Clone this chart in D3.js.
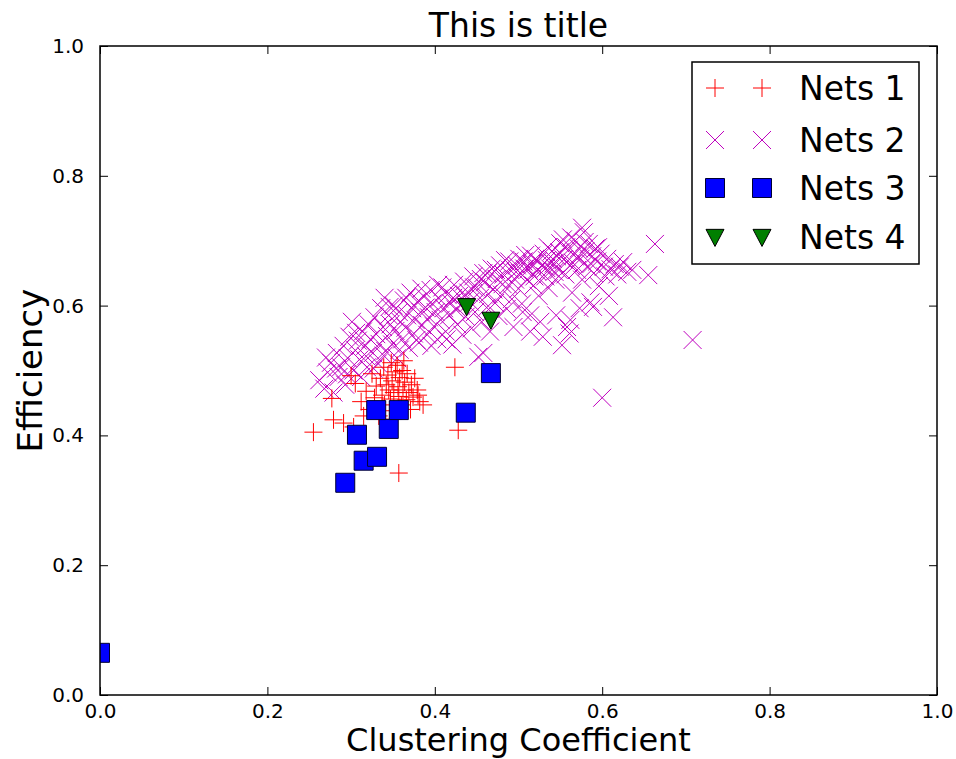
<!DOCTYPE html>
<html>
<head>
<meta charset="utf-8">
<script src="https://cdn.jsdelivr.net/npm/d3@7"></script>
<style>
  body { margin: 0; background: #fff; }
  text { font-family: "DejaVu Sans", sans-serif; fill: #000; }
</style>
</head>
<body>
<div id="chart"></div>
<script>
var seriesNames = ["Nets 1", "Nets 2", "Nets 3", "Nets 4"];
var xTicks = [0.0, 0.2, 0.4, 0.6, 0.8, 1.0];
var yTicks = [0.0, 0.2, 0.4, 0.6, 0.8, 1.0];

// [clustering coefficient, efficiency]
var nets1 = [
	[0.255,0.405],[0.277,0.457],[0.279,0.424],[0.291,0.419],[0.303,0.413],[0.305,0.480],
	[0.312,0.452],[0.318,0.468],[0.322,0.440],[0.325,0.495],[0.328,0.458],[0.330,0.476],
	[0.333,0.430],[0.335,0.488],[0.337,0.462],[0.339,0.505],[0.340,0.447],[0.342,0.478],
	[0.344,0.493],[0.345,0.470],[0.347,0.456],[0.348,0.512],[0.349,0.484],[0.351,0.466],
	[0.352,0.438],[0.353,0.498],[0.355,0.508],[0.356,0.475],[0.357,0.460],[0.358,0.489],
	[0.360,0.447],[0.361,0.500],[0.362,0.470],[0.364,0.482],[0.366,0.455],[0.367,0.495],
	[0.369,0.466],[0.371,0.440],[0.372,0.478],[0.374,0.459],[0.376,0.488],[0.379,0.470],
	[0.382,0.452],[0.386,0.447],[0.357,0.342],[0.424,0.505],[0.428,0.408],[0.300,0.492],
	[0.315,0.430],[0.350,0.425],[0.363,0.515],[0.380,0.462]
];

var nets2 = [
	[0.262,0.485],[0.268,0.472],[0.272,0.497],[0.276,0.512],[0.279,0.466],[0.283,0.527],
	[0.285,0.490],[0.288,0.505],[0.291,0.538],[0.293,0.478],[0.296,0.519],[0.298,0.552],
	[0.301,0.575],[0.303,0.500],[0.305,0.531],[0.308,0.546],[0.310,0.517],[0.312,0.490],
	[0.314,0.560],[0.317,0.538],[0.319,0.505],[0.321,0.571],[0.323,0.548],[0.326,0.527],
	[0.328,0.582],[0.330,0.556],[0.332,0.511],[0.334,0.541],[0.336,0.596],[0.338,0.567],
	[0.340,0.612],[0.341,0.530],[0.343,0.553],[0.345,0.585],[0.347,0.571],[0.349,0.540],
	[0.351,0.600],[0.353,0.561],[0.355,0.519],[0.357,0.590],[0.359,0.575],[0.361,0.548],
	[0.363,0.608],[0.365,0.566],[0.367,0.585],[0.369,0.535],[0.371,0.620],[0.373,0.596],
	[0.375,0.557],[0.377,0.578],[0.379,0.606],[0.381,0.543],[0.383,0.590],[0.385,0.570],
	[0.387,0.614],[0.389,0.597],[0.391,0.555],[0.393,0.582],[0.395,0.624],[0.397,0.603],
	[0.399,0.568],[0.401,0.590],[0.403,0.548],[0.405,0.611],[0.407,0.578],[0.409,0.628],
	[0.411,0.596],[0.413,0.560],[0.415,0.617],[0.417,0.585],[0.419,0.604],[0.421,0.540],
	[0.423,0.632],[0.425,0.594],[0.427,0.571],[0.429,0.615],[0.431,0.600],[0.433,0.555],
	[0.435,0.637],[0.437,0.583],[0.440,0.620],[0.442,0.606],[0.444,0.565],[0.446,0.645],
	[0.448,0.590],[0.450,0.628],[0.452,0.521],[0.454,0.612],[0.456,0.575],[0.458,0.650],
	[0.460,0.636],[0.462,0.597],[0.464,0.618],[0.466,0.560],[0.468,0.657],[0.470,0.625],
	[0.472,0.604],[0.474,0.641],[0.476,0.584],[0.478,0.662],[0.480,0.617],[0.482,0.648],
	[0.484,0.670],[0.486,0.595],[0.488,0.632],[0.490,0.655],[0.492,0.610],[0.494,0.567],
	[0.496,0.640],[0.498,0.662],[0.500,0.626],[0.502,0.650],[0.504,0.603],[0.506,0.668],
	[0.508,0.678],[0.510,0.640],[0.512,0.656],[0.514,0.585],[0.516,0.664],[0.518,0.631],
	[0.520,0.672],[0.522,0.653],[0.524,0.615],[0.526,0.575],[0.528,0.662],[0.530,0.680],
	[0.532,0.645],[0.534,0.670],[0.536,0.627],[0.538,0.657],[0.540,0.684],[0.542,0.665],
	[0.544,0.640],[0.546,0.676],[0.548,0.655],[0.550,0.696],[0.552,0.539],[0.554,0.671],
	[0.556,0.648],[0.558,0.567],[0.560,0.686],[0.562,0.662],[0.564,0.620],[0.566,0.678],
	[0.568,0.700],[0.570,0.655],[0.572,0.688],[0.574,0.672],[0.576,0.640],[0.578,0.713],
	[0.580,0.684],[0.582,0.660],[0.584,0.695],[0.586,0.605],[0.588,0.676],[0.590,0.650],
	[0.592,0.688],[0.594,0.668],[0.596,0.630],[0.598,0.680],[0.600,0.458],[0.602,0.660],
	[0.604,0.645],[0.606,0.672],[0.608,0.615],[0.610,0.656],[0.613,0.582],[0.615,0.664],
	[0.618,0.648],[0.621,0.660],[0.625,0.667],[0.630,0.652],[0.636,0.655],[0.655,0.647],
	[0.663,0.695],[0.708,0.547],[0.514,0.560],[0.529,0.552],[0.561,0.557],[0.562,0.578],
	[0.589,0.598],[0.573,0.596],[0.458,0.527],[0.545,0.585],[0.505,0.590],[0.576,0.720],
	[0.270,0.520],[0.282,0.503],[0.295,0.494],[0.306,0.558],[0.318,0.522],[0.327,0.503],
	[0.339,0.523],[0.346,0.598],[0.358,0.532],[0.366,0.612],[0.378,0.547],[0.384,0.626],
	[0.396,0.538],[0.404,0.632],[0.414,0.548],[0.422,0.612],[0.436,0.617],[0.447,0.628],
	[0.455,0.641],[0.463,0.650],[0.473,0.655],[0.481,0.633],[0.489,0.668],[0.497,0.652],
	[0.507,0.657],[0.515,0.677],[0.523,0.668],[0.533,0.658],[0.541,0.672],[0.549,0.682],
	[0.557,0.690],[0.565,0.666],[0.571,0.676],[0.579,0.698],[0.587,0.664],[0.595,0.690],
	[0.535,0.690],[0.553,0.702],[0.563,0.705],[0.543,0.652],[0.519,0.645],[0.501,0.672]
];

var nets3 = [
	[0.000,0.065],[0.293,0.327],[0.315,0.361],[0.331,0.367],[0.307,0.401],
	[0.345,0.410],[0.330,0.439],[0.357,0.439],[0.437,0.435],[0.467,0.496]
];

var nets4 = [[0.438,0.599],[0.467,0.578]];

var width = 956, height = 759;
var margin = {top: 46, right: 19, bottom: 64, left: 100},
	w = width - margin.left - margin.right,
	h = height - margin.top - margin.bottom;

var x = d3.scaleLinear().domain([0, 1]).range([0, w]);
var y = d3.scaleLinear().domain([0, 1]).range([h, 0]);

var svg = d3.select("#chart").append("svg")
	.attr("width", width)
	.attr("height", height);

svg.append("defs").append("clipPath").attr("id", "clip")
	.append("rect").attr("width", w).attr("height", h);

var g = svg.append("g")
	.attr("transform", "translate(" + margin.left + "," + margin.top + ")");

// marker shapes
function plusPath(r) { return "M" + (-r) + ",0H" + r + "M0," + (-r) + "V" + r; }
function crossPath(r) { return "M" + (-r) + "," + (-r) + "L" + r + "," + r + "M" + (-r) + "," + r + "L" + r + "," + (-r); }
function squarePath(r) { return "M" + (-r) + "," + (-r) + "H" + r + "V" + r + "H" + (-r) + "Z"; }
function triPath(r) { return "M" + (-r) + "," + (-r * 0.85) + "H" + r + "L0," + (r * 1.05) + "Z"; }

var styles = [
	{d: plusPath(9), fill: "none", stroke: "#ff0000", sw: 1},
	{d: crossPath(9), fill: "none", stroke: "#bf00bf", sw: 1},
	{d: squarePath(9.5), fill: "#0000ff", stroke: "#000033", sw: 1},
	{d: triPath(9), fill: "#007f00", stroke: "#000000", sw: 1}
];

function drawSeries(data, s) {
	plot.append("g").selectAll("path")
		.data(data)
		.enter().append("path")
		.attr("transform", function(d) { return "translate(" + x(d[0]) + "," + y(d[1]) + ")"; })
		.attr("d", s.d)
		.attr("fill", s.fill)
		.attr("stroke", s.stroke)
		.attr("stroke-width", s.sw);
}

var plot = g.append("g").attr("clip-path", "url(#clip)");
drawSeries(nets2, styles[1]);
drawSeries(nets1, styles[0]);
drawSeries(nets3, styles[2]);
drawSeries(nets4, styles[3]);

// axes, ticks inward on all four sides
var fmt = d3.format(".1f");
g.append("g").attr("transform", "translate(0," + h + ")")
	.call(d3.axisBottom(x).tickValues(xTicks).tickFormat(fmt).tickSizeInner(-8).tickSizeOuter(0).tickPadding(9));
g.append("g")
	.call(d3.axisLeft(y).tickValues(yTicks).tickFormat(fmt).tickSizeInner(-8).tickSizeOuter(0).tickPadding(16));
g.append("g")
	.call(d3.axisTop(x).tickValues(xTicks).tickFormat("").tickSizeInner(-8).tickSizeOuter(0));
g.append("g").attr("transform", "translate(" + w + ",0)")
	.call(d3.axisRight(y).tickValues(yTicks).tickFormat("").tickSizeInner(-8).tickSizeOuter(0));

g.selectAll(".domain").remove();
g.selectAll(".tick line").attr("stroke", "#000");
g.selectAll(".tick text").style("font-size", "20px").attr("fill", "#000");

g.append("rect")
	.attr("width", w).attr("height", h)
	.attr("fill", "none").attr("stroke", "#000").attr("stroke-width", 1.5);

// titles
svg.append("text")
	.attr("x", margin.left + w / 2).attr("y", 37)
	.attr("text-anchor", "middle")
	.style("font-size", "33px")
	.text("This is title");

svg.append("text")
	.attr("x", margin.left + w / 2).attr("y", 751)
	.attr("text-anchor", "middle")
	.style("font-size", "32px")
	.text("Clustering Coefficient");

svg.append("text")
	.attr("transform", "translate(42," + (margin.top + h / 2) + ") rotate(-90)")
	.attr("text-anchor", "middle")
	.style("font-size", "34px")
	.text("Efficiency");

// legend
var legend = svg.append("g").attr("transform", "translate(692,62)");
legend.append("rect")
	.attr("width", 227).attr("height", 202)
	.attr("fill", "#fff").attr("stroke", "#000").attr("stroke-width", 1.5);

var rowY = [26, 78, 126, 175];
seriesNames.forEach(function(name, i) {
	var row = legend.append("g").attr("transform", "translate(0," + rowY[i] + ")");
	[23, 70].forEach(function(mx) {
		row.append("path")
			.attr("transform", "translate(" + mx + ",0)")
			.attr("d", styles[i].d)
			.attr("fill", styles[i].fill)
			.attr("stroke", styles[i].stroke)
			.attr("stroke-width", styles[i].sw);
	});
	row.append("text")
		.attr("x", 107).attr("y", 0)
		.attr("dy", "0.36em")
		.style("font-size", "33px")
		.text(name);
});
</script>
</body>
</html>
